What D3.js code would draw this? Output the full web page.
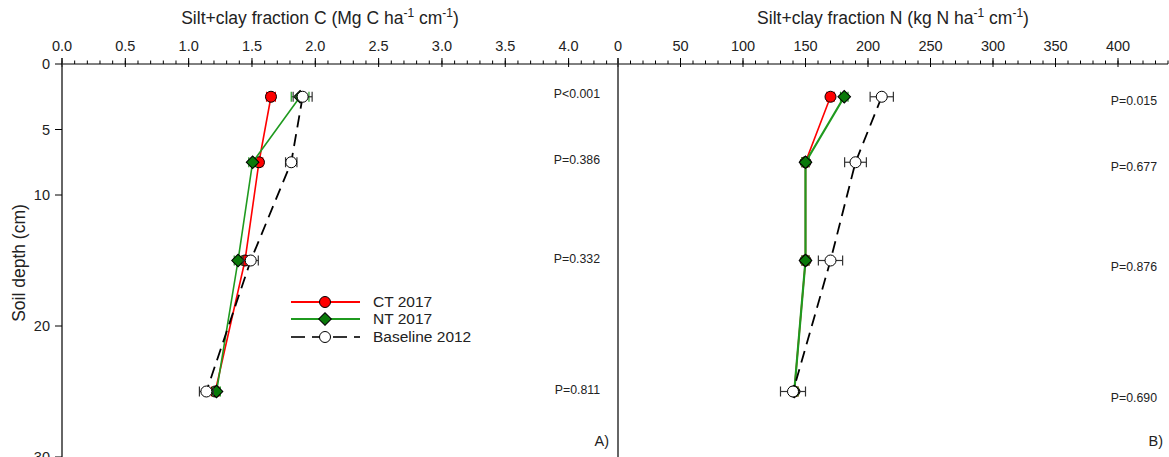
<!DOCTYPE html>
<html><head><meta charset="utf-8">
<script src="https://cdn.jsdelivr.net/npm/d3@7"></script>
<style>body{margin:0;background:#fff;}svg{display:block;font-family:"Liberation Sans",Arial,sans-serif;}</style>
</head><body><svg id="c" width="1169" height="457"></svg>
<script>
const depths = [2.5, 7.5, 15, 25];
const seriesNames = ["CT 2017", "NT 2017", "Baseline 2012"];
// Panel A: C
const ctC = [1.65, 1.555, 1.445, 1.21];
const ctCerr = [0.035, 0.03, 0.03, 0.03];
const ntC = [1.88, 1.505, 1.39, 1.22];
const ntCerr = [0.07, 0.03, 0.03, 0.03];
const baseC = [1.90, 1.81, 1.49, 1.14];
const baseCerr = [0.075, 0.045, 0.06, 0.055];
// Panel B: N
const ctN = [170, 150, 150, 141];
const ctNerr = [3, 3, 3, 3];
const ntN = [181, 150, 150, 141];
const ntNerr = [3, 3, 3, 3];
const baseN = [211, 190, 170, 140];
const baseNerr = [9.3, 8.7, 9.7, 10];
const pA = ["P<0.001", "P=0.386", "P=0.332", "P=0.811"];
const pB = ["P=0.015", "P=0.677", "P=0.876", "P=0.690"];
const ticksA = [0, 0.5, 1, 1.5, 2, 2.5, 3, 3.5, 4];
const ticksB = [0, 50, 100, 150, 200, 250, 300, 350, 400];
const yTicks = [0, 5, 10, 20, 30];

const svg = d3.select("#c");
const y = d3.scaleLinear().domain([0, 30]).range([64, 457]);
const xA = d3.scaleLinear().domain([0, 4.39]).range([62, 618]);
const xB = d3.scaleLinear().domain([0, 440]).range([618, 1168]);

function topAxis(x, majors, minorStep, fmt) {
  const g = svg.append("g");
  const [d0, d1] = x.domain();
  g.append("line").attr("x1", x.range()[0]).attr("x2", x.range()[1]).attr("y1", 64).attr("y2", 64).attr("stroke", "#000").attr("stroke-width", 1);
  const minors = d3.range(0, d1 + 1e-9, minorStep);
  g.selectAll(".mn").data(minors).enter().append("line")
    .attr("x1", d => x(d)).attr("x2", d => x(d)).attr("y1", 60.5).attr("y2", 64).attr("stroke", "#000");
  g.selectAll(".mj").data(majors).enter().append("line")
    .attr("x1", d => x(d)).attr("x2", d => x(d)).attr("y1", 58).attr("y2", 67).attr("stroke", "#000");
  g.selectAll(".tl").data(majors).enter().append("text")
    .attr("x", d => x(d)).attr("y", 51).attr("text-anchor", "middle").attr("font-size", 14.5).attr("fill", "#222")
    .text(fmt);
}
topAxis(xA, ticksA, 0.1, d => d3.format(".1f")(d));
topAxis(xB, ticksB, 10, d => d);

// vertical axes
svg.append("line").attr("x1", 62).attr("x2", 62).attr("y1", 58).attr("y2", 457).attr("stroke", "#333").attr("stroke-width", 1.5);
svg.append("line").attr("x1", 618).attr("x2", 618).attr("y1", 58).attr("y2", 457).attr("stroke", "#333").attr("stroke-width", 1.5);
svg.selectAll(".yt").data(yTicks).enter().append("line")
  .attr("x1", 55).attr("x2", 62).attr("y1", d => y(d)).attr("y2", d => y(d)).attr("stroke", "#000");
svg.selectAll(".yl").data(yTicks).enter().append("text")
  .attr("x", 50).attr("y", d => y(d) + 5).attr("text-anchor", "end").attr("font-size", 14.5).attr("fill", "#222").text(d => d);

// titles
function title(x, y0, main, unit) {
  const t = svg.append("text").attr("x", x).attr("y", y0).attr("text-anchor", "middle").attr("font-size", 17.5).attr("fill", "#222");
  t.append("tspan").text(main + " (" + unit + " ha");
  t.append("tspan").attr("dy", -7).attr("font-size", 12).text("-1");
  t.append("tspan").attr("dy", 7).text(" cm");
  t.append("tspan").attr("dy", -7).attr("font-size", 12).text("-1");
  t.append("tspan").attr("dy", 7).text(")");
}
title(320, 24, "Silt+clay fraction C", "Mg C");
title(893, 24, "Silt+clay fraction N", "kg N");
svg.append("text").attr("transform", "translate(25,263) rotate(-90)").attr("text-anchor", "middle").attr("font-size", 17.5).attr("fill", "#222").text("Soil depth (cm)");

const diamond = d3.symbol().type(d3.symbolSquare).size(80);
function series(x, vals, errs, color, fill, marker, dash, lw) {
  const g = svg.append("g");
  const line = d3.line().x(d => x(d[0])).y(d => y(d[1]));
  const pts = vals.map((v, i) => [v, depths[i], errs[i]]);
  g.append("path").attr("d", line(pts)).attr("fill", "none").attr("stroke", color).attr("stroke-width", lw).attr("stroke-dasharray", dash);
  const ecol = color === "#000" ? "#333" : color;
  pts.forEach(p => {
    const x1 = x(p[0] - p[2]), x2 = x(p[0] + p[2]), yy = y(p[1]);
    g.append("line").attr("x1", x1).attr("x2", x2).attr("y1", yy).attr("y2", yy).attr("stroke", ecol).attr("stroke-width", 1.2);
    [x1, x2].forEach(xx => g.append("line").attr("x1", xx).attr("x2", xx).attr("y1", yy - 5).attr("y2", yy + 5).attr("stroke", ecol).attr("stroke-width", 1.2));
  });
  pts.forEach(p => {
    if (marker === "circle") {
      g.append("circle").attr("cx", x(p[0])).attr("cy", y(p[1])).attr("r", 5.5).attr("fill", fill).attr("stroke", "#000").attr("stroke-width", 1);
    } else {
      g.append("path").attr("d", diamond()).attr("transform", `translate(${x(p[0])},${y(p[1])}) rotate(45)`).attr("fill", fill).attr("stroke", "#000").attr("stroke-width", 1);
    }
  });
}
series(xA, ctC, ctCerr, "#ff0000", "#ff0000", "circle", null, 1.6);
series(xA, ntC, ntCerr, "#1f9a1f", "#0a7a0a", "diamond", null, 1.6);
series(xA, baseC, baseCerr, "#000", "#fff", "circle", "12,7", 1.8);
series(xB, ctN, ctNerr, "#ff0000", "#ff0000", "circle", null, 1.6);
series(xB, ntN, ntNerr, "#1f9a1f", "#0a7a0a", "diamond", null, 2.2);
series(xB, baseN, baseNerr, "#000", "#fff", "circle", "12,7", 1.8);

// P-values
const pAy = [94, 160, 259, 390], pBy = [101, 167, 267, 398];
svg.selectAll(".pa").data(pA).enter().append("text").attr("x", 600).attr("y", (d, i) => pAy[i] + 4).attr("text-anchor", "end").attr("font-size", 12.3).attr("fill", "#222").text(d => d);
svg.selectAll(".pb").data(pB).enter().append("text").attr("x", 1157).attr("y", (d, i) => pBy[i] + 4).attr("text-anchor", "end").attr("font-size", 12.3).attr("fill", "#222").text(d => d);
svg.append("text").attr("x", 609).attr("y", 446).attr("text-anchor", "end").attr("font-size", 14.5).attr("fill", "#222").text("A)");
svg.append("text").attr("x", 1163).attr("y", 446).attr("text-anchor", "end").attr("font-size", 14.5).attr("fill", "#222").text("B)");

// Legend
const legY = [302, 319, 337];
const legStyle = [
  {c: "#ff0000", f: "#ff0000", m: "circle", d: null},
  {c: "#1f9a1f", f: "#0a7a0a", m: "diamond", d: null},
  {c: "#333", f: "#fff", m: "circle", d: "14,7"}
];
seriesNames.forEach((n, i) => {
  const s = legStyle[i], yy = legY[i];
  svg.append("line").attr("x1", 291).attr("x2", 360).attr("y1", yy).attr("y2", yy).attr("stroke", s.c).attr("stroke-width", 1.8).attr("stroke-dasharray", s.d);
  if (s.m === "circle") svg.append("circle").attr("cx", 325).attr("cy", yy).attr("r", 5.5).attr("fill", s.f).attr("stroke", "#000");
  else svg.append("path").attr("d", diamond()).attr("transform", `translate(325,${yy}) rotate(45)`).attr("fill", s.f).attr("stroke", "#000");
  svg.append("text").attr("x", 373).attr("y", yy + 5).attr("font-size", 15.5).attr("fill", "#222").text(n);
});
</script></body></html>
